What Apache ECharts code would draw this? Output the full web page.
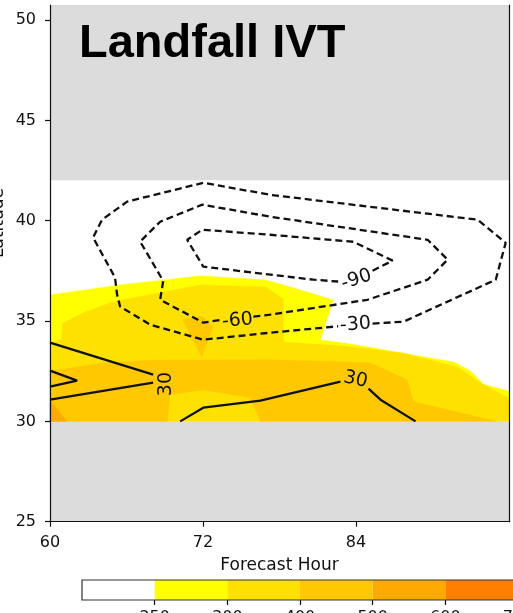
<!DOCTYPE html>
<html>
<head>
<meta charset="utf-8">
<script src="https://cdn.jsdelivr.net/npm/echarts@6/dist/echarts.min.js"></script>
<style>
  html, body { margin: 0; padding: 0; background: #fff; }
  #chart { width: 513px; height: 613px; }
</style>
</head>
<body>
<div id="chart"></div>
<script>
// axis ticks
const xTicks = [60, 72, 84];
const yTicks = [25, 30, 35, 40, 45, 50];

// filled IVT regions, [forecast hour, latitude]
const regionBelow250 = [[60, 30], [96, 30], [96, 42], [60, 42]];
const region250 = [[60, 30], [60, 36.3], [65.5, 36.8], [71.8, 37.25], [76.9, 37.05], [79.1, 36.65],
  [82.2, 36.05], [81.2, 34.05], [83.6, 33.85], [91.7, 32.95], [93, 32.5], [94, 31.85], [96, 31.5], [96, 30]];
const region300 = [[60, 30], [60, 33.9], [60.9, 34.1], [61, 34.9], [62.6, 35.4], [64.9, 35.95],
  [71.8, 36.8], [76.9, 36.7], [78.3, 36.1], [78.3, 33.95], [83, 33.75], [87.7, 33.4], [92, 32.7],
  [93.8, 31.9], [96, 31.15], [96, 30]];
const region400 = [[60, 30], [60, 32.5], [64, 32.9], [68, 33.05], [77.3, 33.07], [85.1, 32.92],
  [88, 32.08], [88.5, 30.98], [95, 30], [76.5, 30], [75.7, 31.18], [72, 31.58], [69.4, 31.33], [69.2, 30]];
const region400b = [[70.4, 35.07], [71.9, 35.22], [72.8, 34.72], [71.9, 33.22]];
const region500 = [[60, 30], [60, 31.05], [61.3, 30]];

// contour lines (negative = dashed)
const contourNeg30 = [[85.3, 34.87], [87.73, 34.97], [94.96, 37.06], [95.74, 38.9], [93.54, 40.05],
  [77.28, 41.29], [72.02, 41.89], [66.05, 40.95], [64.08, 40.05], [63.38, 39.16], [65.1, 37.17],
  [65.26, 36.32], [65.5, 35.72], [67.86, 34.82], [72.02, 34.07], [77.28, 34.42], [82.6, 34.74]];
const contourNeg60 = [[75.95, 35.22], [77.28, 35.32], [84.9, 36.06], [89.62, 37.06], [91.19, 38.06],
  [89.62, 39.05], [77.28, 40.2], [71.94, 40.8], [68.64, 39.95], [67.07, 38.96], [68.88, 37.0],
  [68.64, 36.06], [72.02, 34.92], [73.3, 35.05]];
const contourNeg90 = [[85.3, 37.51], [86.87, 38.01], [83.8, 38.95], [77.28, 39.3], [71.94, 39.55],
  [70.76, 39.05], [72.02, 37.71], [80.66, 37.06], [82.6, 36.97]];
const contourPos30a = [[60, 33.92], [68.09, 32.33]];
const contourPos30b = [[68.09, 31.93], [60, 31.08]];
const contourPos30c = [[60, 32.53], [62.12, 32.03], [60, 31.73]];
const contourPos30d = [[70.21, 30], [72.02, 30.68], [76.5, 31.03], [82.78, 31.98]];
const contourPos30e = [[84.98, 31.63], [85.92, 31.08], [88.67, 30]];

// contour labels
const labelText = ['-90', '-60', '-30', '30', '30'];
const labelAt = [[84.04, 37.06], [74.7, 35.02], [83.96, 34.82], [69.11, 31.86], [83.96, 32.08]];
const labelAngle = [18, 5, 4, 90, -12];

// colour bar
const cbTicks = [1, 2, 3, 4, 5, 6];
const cbLabels = ['250', '300', '400', '500', '600', '700'];
const cbColors = ['#ffffff', '#ffff00', '#ffe100', '#ffc800', '#ffaa00', '#ff8000'];

const fills = [
  [regionBelow250, '#ffffff'],
  [region250, '#ffff00'],
  [region300, '#ffe100'],
  [region400, '#ffc800'],
  [region400b, '#ffc800'],
  [region500, '#ffaa00'],
];

const chart = echarts.init(document.getElementById('chart'));

const tickFont = { fontFamily: 'DejaVu Sans', fontSize: 16, color: '#111' };
const axisLine = { show: true, onZero: false, lineStyle: { color: '#111', width: 1.2 } };

function contour(data, dashed) {
  return {
    type: 'line',
    xAxisIndex: 0,
    yAxisIndex: 0,
    data: data,
    symbol: 'none',
    silent: true,
    clip: false,
    z: 3,
    lineStyle: { color: '#111', width: 2.3, type: dashed ? [7, 4] : 'solid' },
  };
}

const option = {
  animation: false,
  grid: [
    { left: 50, top: 5, width: 459, height: 516.7, show: true, backgroundColor: '#dcdcdc', borderWidth: 0, outerBoundsMode: 'none' },
    { left: 82, top: 580, width: 436, height: 20, outerBoundsMode: 'none' },
  ],
  xAxis: [
    {
      gridIndex: 0, type: 'value', min: 60, max: 96, z: 5,
      name: 'Forecast Hour', nameLocation: 'middle', nameGap: 35,
      nameTextStyle: { fontFamily: 'DejaVu Sans', fontSize: 17, color: '#111' },
      axisLine: axisLine,
      axisTick: { show: true, length: 5, customValues: xTicks, lineStyle: { color: '#111', width: 1.2 } },
      axisLabel: Object.assign({ customValues: xTicks, margin: 13 }, tickFont),
      splitLine: { show: false },
    },
    {
      gridIndex: 1, type: 'value', min: 0, max: 6,
      axisLine: { show: false },
      axisTick: { show: true, length: 5, customValues: cbTicks, lineStyle: { color: '#111', width: 1.2 } },
      axisLabel: Object.assign({ customValues: cbTicks, margin: 10, formatter: v => cbLabels[v - 1] }, tickFont),
      splitLine: { show: false },
    },
  ],
  yAxis: [
    {
      gridIndex: 0, type: 'value', min: 25, max: 50.75, z: 5,
      axisLine: axisLine,
      axisTick: { show: true, length: 5, customValues: yTicks, lineStyle: { color: '#111', width: 1.2 } },
      axisLabel: Object.assign({ customValues: yTicks, margin: 14 }, tickFont),
      splitLine: { show: false },
    },
    {
      gridIndex: 0, type: 'value', min: 25, max: 50.75, position: 'right', z: 5,
      axisLine: axisLine, axisTick: { show: false }, axisLabel: { show: false }, splitLine: { show: false },
    },
    { gridIndex: 1, type: 'value', min: 0, max: 1, show: false },
  ],
  graphic: [
    {
      type: 'text', x: 79, y: 44, z: 10,
      style: { text: 'Landfall IVT', fill: '#000', font: 'bold 47px "Liberation Sans"', align: 'left', verticalAlign: 'middle' },
    },
    {
      type: 'text', x: -1, y: 223, rotation: Math.PI / 2, z: 10,
      style: { text: 'Latitude', fill: '#111', font: '17px "DejaVu Sans"', align: 'center', verticalAlign: 'middle' },
    },
  ],
  series: [
    {
      type: 'custom',
      xAxisIndex: 0,
      yAxisIndex: 0,
      z: 1,
      silent: true,
      data: fills.map((f, i) => [i, 0]),
      renderItem(params, api) {
        const f = fills[params.dataIndex];
        return {
          type: 'polygon',
          shape: { points: f[0].map(p => api.coord(p)) },
          style: { fill: f[1], stroke: f[1], lineWidth: 0.5 },
        };
      },
    },
    contour(contourNeg30, true),
    contour(contourNeg60, true),
    contour(contourNeg90, true),
    contour(contourPos30a, false),
    contour(contourPos30b, false),
    contour(contourPos30c, false),
    contour(contourPos30d, false),
    contour(contourPos30e, false),
    {
      type: 'custom',
      xAxisIndex: 0,
      yAxisIndex: 0,
      z: 4,
      silent: true,
      data: labelText.map((t, i) => [i, 0]),
      renderItem(params, api) {
        const i = params.dataIndex;
        const p = api.coord(labelAt[i]);
        return {
          type: 'text',
          x: p[0], y: p[1],
          rotation: labelAngle[i] * Math.PI / 180,
          style: { text: labelText[i], fill: '#111', font: '19px "DejaVu Sans"', align: 'center', verticalAlign: 'middle' },
        };
      },
    },
    {
      type: 'custom',
      xAxisIndex: 1,
      yAxisIndex: 2,
      silent: true,
      data: cbColors.map((c, i) => [i, 0]).concat([[-1, 0]]),
      renderItem(params, api) {
        const i = params.dataIndex;
        if (i === cbColors.length) {
          const a = api.coord([0, 1]);
          const b = api.coord([cbColors.length, 0]);
          return {
            type: 'rect',
            shape: { x: a[0], y: a[1], width: b[0] - a[0], height: b[1] - a[1] },
            style: { fill: 'none', stroke: '#333', lineWidth: 1.2 },
          };
        }
        const a = api.coord([i, 1]);
        const b = api.coord([i + 1, 0]);
        return {
          type: 'rect',
          shape: { x: a[0], y: a[1], width: b[0] - a[0], height: b[1] - a[1] },
          style: { fill: cbColors[i] },
        };
      },
    },
  ],
};

chart.setOption(option);
</script>
</body>
</html>
